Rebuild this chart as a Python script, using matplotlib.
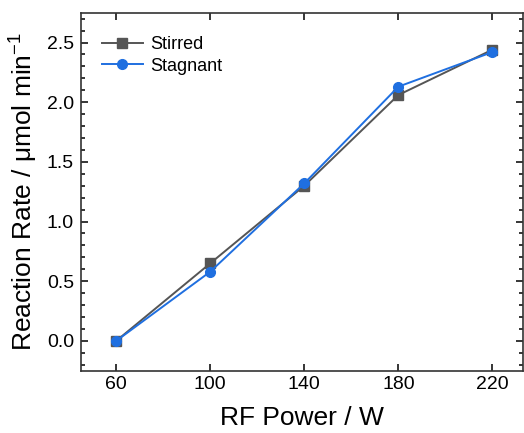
import numpy as np
import matplotlib
matplotlib.use("Agg")
from matplotlib import pyplot as plt
from matplotlib.ticker import MultipleLocator

plt.rcParams['font.family'] = ['Liberation Sans', 'DejaVu Sans']
plt.rcParams['mathtext.fontset'] = 'custom'
plt.rcParams['mathtext.rm'] = 'Liberation Sans'
plt.rcParams['mathtext.default'] = 'regular'

power = [60, 100, 140, 180, 220]
stirred = [0.0, 0.65, 1.30, 2.06, 2.44]
stagnant = [0.0, 0.58, 1.32, 2.13, 2.42]

fig = plt.figure(figsize=(5.24, 4.33), dpi=100)
ax = fig.add_axes([0.1546, 0.1439, 0.8434, 0.8268])

ax.plot(power, stirred, color='#555555', marker='s', markersize=6.5, lw=1.4, label='Stirred')
ax.plot(power, stagnant, color='#1f6fe0', marker='o', markersize=7, lw=1.4, label='Stagnant')

ax.set_xlim(45, 233)
ax.set_ylim(-0.25, 2.75)
ax.set_xticks(power)
ax.yaxis.set_major_locator(MultipleLocator(0.5))
ax.yaxis.set_minor_locator(MultipleLocator(0.1))
ax.tick_params(which='both', direction='in', top=True, right=True, labelsize=14, width=1.1)
ax.tick_params(which='major', length=5)
ax.tick_params(which='minor', length=3)
ax.tick_params(axis='x', which='minor', top=False, bottom=False)
ax.tick_params(axis='y', pad=5)
for s in ax.spines.values():
    s.set_linewidth(1.2)
    s.set_color('#333333')

ax.set_xlabel('RF Power / W', fontsize=19, labelpad=10)
ax.set_ylabel('Reaction Rate / μmol min$^{-1}$', fontsize=19, labelpad=5)

ax.legend(loc='upper left', frameon=False, fontsize=13, handlelength=2.3,
          handletextpad=0.4, labelspacing=0.25, bbox_to_anchor=(0.01, 0.98))

fig.savefig('out.png', dpi=100)
